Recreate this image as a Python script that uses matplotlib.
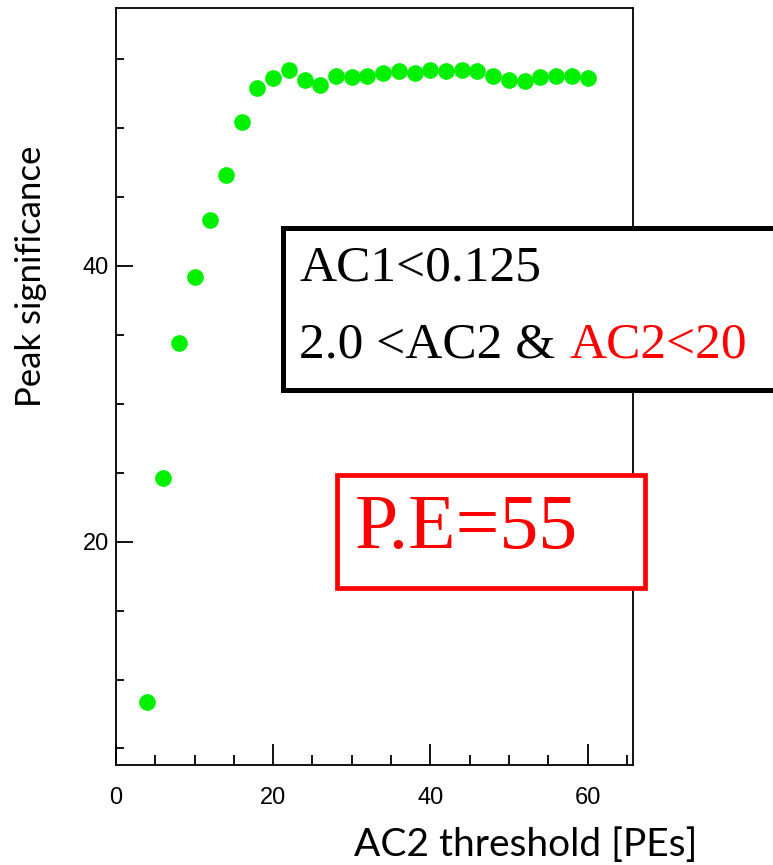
import matplotlib
matplotlib.use("Agg")
from matplotlib import pyplot as plt
from matplotlib.patches import Rectangle
from matplotlib.ticker import MultipleLocator

# data
threshold = [4, 6, 8, 10, 12, 14, 16, 18, 20, 22, 24, 26, 28, 30, 32,
             34, 36, 38, 40, 42, 44, 46, 48, 50, 52, 54, 56, 58, 60]
significance = [8.4, 24.6, 34.4, 39.2, 43.3, 46.6, 50.4, 52.9, 53.6, 54.2,
                53.5, 53.1, 53.8, 53.7, 53.8, 54.0, 54.1, 54.0, 54.2, 54.1,
                54.2, 54.1, 53.8, 53.5, 53.4, 53.7, 53.8, 53.8, 53.6]
x_ticks = [0, 20, 40, 60]
y_ticks = [20, 40]

fig = plt.figure(figsize=(7.73, 8.65), dpi=100)
ax = fig.add_axes([0.150, 0.1156, 0.669, 0.8752])

ax.plot(threshold, significance, 'o', color='#00f000', ms=12, mec='none')

ax.set_xlim(0, 65.8)
ax.set_ylim(3.8, 58.7)
ax.set_xticks(x_ticks)
ax.set_yticks(y_ticks)
ax.xaxis.set_minor_locator(MultipleLocator(5))
ax.yaxis.set_minor_locator(MultipleLocator(5))
ax.tick_params(which='both', direction='in', top=False, right=False,
               width=1.3, labelsize=17, labelfontfamily='Liberation Sans')
ax.tick_params(axis='x', which='major', length=15, pad=16)
ax.tick_params(axis='x', which='minor', length=7)
ax.tick_params(axis='y', which='major', length=12, pad=5)
ax.tick_params(axis='y', which='minor', length=6)
for s in ax.spines.values():
    s.set_linewidth(1.3)

fig.text(0.902, 0.010, 'AC2 threshold [PEs]', ha='right', va='baseline',
         fontsize=28, family='Lato')
fig.text(0.040, 0.681, 'Peak significance', ha='center', va='center',
         rotation=90, fontsize=25, family='Lato')

# cut box
fig.patches.append(Rectangle((0.366, 0.549), 0.66, 0.187, transform=fig.transFigure,
                             facecolor='white', edgecolor='black', lw=3.6, zorder=5))
fig.text(0.387, 0.676, 'AC1<0.125', fontsize=37, family='Liberation Serif',
         va='baseline', zorder=6)
fig.text(0.387, 0.587, '2.0 <AC2 &', fontsize=37, family='Liberation Serif',
         va='baseline', zorder=6)
fig.text(0.737, 0.587, 'AC2<20', fontsize=37, family='Liberation Serif',
         color='red', va='baseline', zorder=6)

# P.E box
fig.patches.append(Rectangle((0.436, 0.320), 0.398, 0.131, transform=fig.transFigure,
                             facecolor='white', edgecolor='red', lw=3.4, zorder=5))
fig.text(0.459, 0.366, 'P.E=55', fontsize=56, family='Liberation Serif',
         color='red', va='baseline', zorder=6)

fig.savefig('out.png', dpi=100)
